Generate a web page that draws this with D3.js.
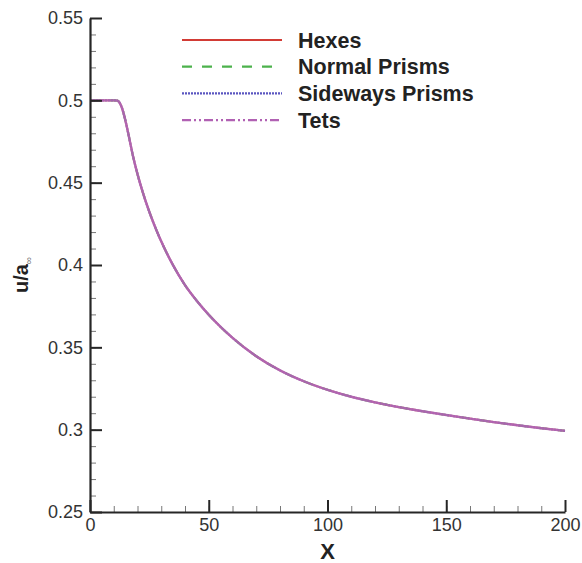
<!DOCTYPE html>
<html>
<head>
<meta charset="utf-8">
<script src="https://cdn.jsdelivr.net/npm/d3@7"></script>
<style>
body{margin:0;background:#fff;}
text{font-family:"Liberation Sans",Arial,Helvetica,sans-serif;}
</style>
</head>
<body>
<script>
// data; all four meshes give the same curve
const xs=[0,5,10,11.5,12.5,13.5,15,16.5,18,20,22,25,28,31,35,40,45,50,55,60,70,80,90,100,110,120,130,140,150,160,170,180,190,200];
const hexes=[0.5,0.5,0.5,0.4998,0.4985,0.4952,0.4872,0.4772,0.4668,0.4552,0.4452,0.4322,0.4210,0.4112,0.3998,0.3878,0.3782,0.3698,0.3624,0.3558,0.3446,0.3360,0.3294,0.3242,0.3200,0.3166,0.3137,0.3112,0.3089,0.3067,0.3046,0.3027,0.3009,0.2993];
const normalPrisms=hexes.slice();
const sidewaysPrisms=hexes.slice();
const tets=hexes.slice();
const seriesNames=["Hexes","Normal Prisms","Sideways Prisms","Tets"];
const xTicks=[0,50,100,150,200];
const yTicks=[0.25,0.3,0.35,0.4,0.45,0.5,0.55];

const w=582,h=563;
const m={l:90,r:17,t:18,b:51};
const svg=d3.select("body").append("svg").attr("width",w).attr("height",h);

const x=d3.scaleLinear().domain([0,200]).range([m.l,w-m.r]);
const y=d3.scaleLinear().domain([0.25,0.55]).range([h-m.b,m.t]);

const styles=[
  {color:"#d23b35",dash:null,width:2.2},
  {color:"#4cb24c",dash:"10,10",width:2.2},
  {color:"#5a55c0",dash:"2,1",width:2.2},
  {color:"#b161b3",dash:"9,3,2,3,2,3",width:2.4}
];
const allSeries=[hexes,normalPrisms,sidewaysPrisms,tets];

const line=d3.line().x((d,i)=>x(xs[i])).y(d=>y(d)).curve(d3.curveMonotoneX);

allSeries.forEach((s,i)=>{
  svg.append("path").datum(s)
    .attr("d",line)
    .attr("fill","none")
    .attr("stroke",styles[i].color)
    .attr("stroke-width",styles[i].width)
    .attr("stroke-dasharray",i==3?null:styles[i].dash)
    .attr("opacity",i==3?0.85:0.6);
});

// axes
const axisColor="#262626";
const xAxis=svg.append("g").attr("transform","translate(0,"+(h-m.b)+")");
xAxis.call(d3.axisBottom(x).tickValues(d3.range(0,201,10)).tickSize(-6).tickFormat(""));
xAxis.selectAll(".tick line").attr("stroke","#777").attr("stroke-width",1);
xAxis.select(".domain").remove();
const xMaj=svg.append("g").attr("transform","translate(0,"+(h-m.b)+")");
xMaj.call(d3.axisBottom(x).tickValues(xTicks).tickSize(-12).tickSizeOuter(0).tickFormat(d3.format("d")));
xMaj.selectAll(".tick line").attr("stroke",axisColor).attr("stroke-width",2);
xMaj.selectAll(".tick text").attr("y",6).attr("font-size",18).attr("fill","#333");
xMaj.select(".domain").attr("stroke",axisColor).attr("stroke-width",2.2);

const yAxis=svg.append("g").attr("transform","translate("+m.l+",0)");
yAxis.call(d3.axisLeft(y).tickValues(d3.range(25,56,1).map(v=>v/100)).tickSize(-6).tickFormat(""));
yAxis.selectAll(".tick line").attr("stroke","#777").attr("stroke-width",1);
yAxis.select(".domain").remove();
const yMaj=svg.append("g").attr("transform","translate("+m.l+",0)");
yMaj.call(d3.axisLeft(y).tickValues(yTicks).tickSize(-12).tickSizeOuter(0).tickFormat(d=>d3.format("")(d)));
yMaj.selectAll(".tick line").attr("stroke",axisColor).attr("stroke-width",2);
yMaj.selectAll(".tick text").attr("x",-7).attr("font-size",18).attr("fill","#333");
yMaj.select(".domain").attr("stroke",axisColor).attr("stroke-width",2.2);

// axis titles
svg.append("text").attr("x",(x(0)+x(200))/2).attr("y",h-4)
  .attr("text-anchor","middle").attr("font-size",22).attr("font-weight","bold").attr("fill","#222").text("X");
const yl=svg.append("text").attr("transform","translate(28,"+(y(0.4)+10)+") rotate(-90)")
  .attr("text-anchor","middle").attr("font-size",20).attr("font-weight","bold").attr("fill","#222");
yl.append("tspan").text("u/a");
yl.append("tspan").attr("dy",4).attr("font-size",10).attr("font-weight","normal").attr("fill","#777").text("∞");

// legend
const leg=svg.append("g");
seriesNames.forEach((n,i)=>{
  const ly=40+i*26.7;
  leg.append("line").attr("x1",182).attr("x2",282).attr("y1",ly).attr("y2",ly)
    .attr("stroke",styles[i].color).attr("stroke-width",2.2)
    .attr("stroke-dasharray",styles[i].dash);
  leg.append("text").attr("x",298).attr("y",ly+7.5).attr("font-size",21.5).attr("font-weight","bold")
    .attr("fill","#222").text(n);
});
</script>
</body>
</html>
